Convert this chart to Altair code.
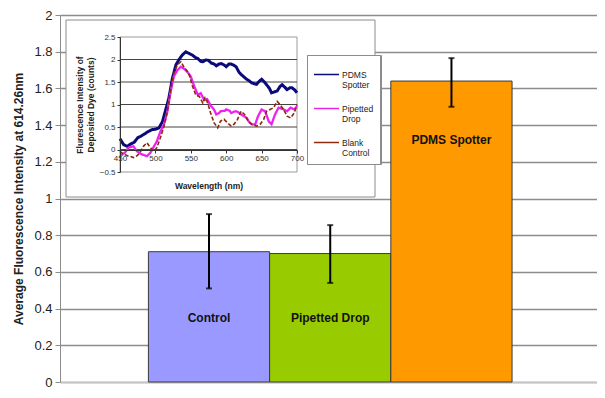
import altair as alt
import pandas as pd

# ---------------- main bar chart data ----------------
categories = ["Control", "Pipetted Drop", "PDMS Spotter"]
means = [0.71, 0.70, 1.64]
err_low = [0.51, 0.54, 1.50]
err_high = [0.915, 0.855, 1.765]
label_y = [0.35, 0.35, 1.32]
bar_colors = ["#9999FF", "#99CC00", "#FF9900"]
main_ticks = [0, 0.2, 0.4, 0.6, 0.8, 1.0, 1.2, 1.4, 1.6, 1.8, 2.0]

# ---------------- inset spectra data ----------------
series_names = ["PDMS Spotter", "Pipetted Drop", "Blank Control"]
series_colors = ["#0A0A7A", "#EE22EE", "#8B2A10"]

wl_pdms = [450, 455, 460, 465, 470, 475, 480, 485, 490, 495, 500, 505, 510, 514, 519,
           524, 529, 533, 538, 543, 548, 552, 556, 560, 564, 567, 571, 575, 579, 583,
           586, 590, 593, 597, 600, 604, 607, 611, 614, 618, 621, 626, 629, 633, 636,
           640, 643, 647, 650, 654, 657, 661, 664, 668, 672, 676, 679, 683, 686, 690,
           693, 697, 700]
val_pdms = [0.24, 0.11, 0.07, 0.12, 0.16, 0.26, 0.30, 0.35, 0.40, 0.44, 0.45, 0.48, 0.62, 0.85, 1.14,
            1.58, 1.88, 1.99, 2.10, 2.17, 2.13, 2.10, 2.05, 2.02, 1.96, 1.95, 1.99, 1.98, 1.92, 1.90,
            1.86, 1.90, 1.91, 1.88, 1.84, 1.90, 1.90, 1.87, 1.84, 1.72, 1.67, 1.60, 1.56, 1.52, 1.48,
            1.46, 1.45, 1.52, 1.56, 1.50, 1.44, 1.36, 1.26, 1.28, 1.30, 1.40, 1.44, 1.38, 1.33, 1.37,
            1.37, 1.32, 1.26]

wl_pip = [450, 454, 457, 462, 466, 469, 474, 478, 481, 485, 488, 493, 498, 502, 507,
          512, 517, 521, 526, 531, 536, 540, 545, 550, 555, 560, 564, 569, 573, 578,
          583, 586, 590, 592, 598, 600, 605, 607, 611, 614, 618, 621, 625, 629, 632,
          636, 641, 645, 650, 655, 660, 664, 669, 674, 678, 681, 686, 691, 696, 700]
val_pip = [-0.15, -0.10, -0.07, 0.04, 0.06, 0.07, -0.04, -0.08, -0.11, -0.13, -0.15, -0.07, 0.07, 0.18, 0.40,
           0.55, 0.85, 1.25, 1.62, 1.76, 1.84, 1.80, 1.73, 1.62, 1.40, 1.21, 1.25, 1.10, 1.12, 0.98,
           0.88, 0.78, 0.81, 0.85, 0.86, 0.89, 0.86, 0.81, 0.84, 0.85, 0.82, 0.78, 0.74, 0.70, 0.62,
           0.56, 0.56, 0.74, 0.89, 0.85, 0.63, 0.56, 0.78, 0.93, 0.91, 0.89, 0.85, 0.93, 0.89, 0.96]

wl_blank = [450, 455, 459, 462, 466, 469, 473, 476, 480, 483, 488, 493, 498, 502, 507,
            512, 517, 521, 526, 531, 536, 540, 544, 548, 552, 557, 562, 567, 570, 573,
            576, 578, 583, 588, 592, 597, 602, 607, 611, 616, 621, 626, 631, 636, 643,
            648, 653, 657, 662, 667, 672, 676, 681, 686, 691, 696, 700]
val_blank = [-0.04, -0.11, -0.13, -0.15, -0.16, -0.18, -0.15, -0.11, -0.02, 0.07, 0.15, 0.04, -0.04, 0.04, 0.26,
             0.51, 0.85, 1.29, 1.69, 1.88, 1.95, 1.84, 1.76, 1.65, 1.43, 1.21, 1.18, 1.03, 1.15, 1.07,
             0.92, 0.81, 0.59, 0.48, 0.63, 0.67, 0.59, 0.52, 0.56, 0.67, 0.85, 0.78, 0.63, 0.56, 0.52,
             0.56, 0.67, 0.85, 0.89, 0.93, 1.07, 1.00, 0.89, 0.74, 0.70, 0.81, 1.00]

inset_x_ticks = [450, 500, 550, 600, 650, 700]
inset_y_ticks = [-0.5, 0, 0.5, 1, 1.5, 2, 2.5]
inset_grid = [0, 0.5, 1, 1.5, 2]

FONT = "Liberation Sans"
PLOT_H = 367

# ---------------- tables ----------------
main_df = pd.DataFrame({"cat": categories, "mean": means, "lo": err_low,
                        "hi": err_high, "ly": label_y})
spec_df = pd.concat([
    pd.DataFrame({"series": series_names[0], "wl": wl_pdms, "v": val_pdms}),
    pd.DataFrame({"series": series_names[1], "wl": wl_pip, "v": val_pip}),
    pd.DataFrame({"series": series_names[2], "wl": wl_blank, "v": val_blank}),
], ignore_index=True)
grid_df = pd.DataFrame({"g": inset_grid})
one_df = pd.DataFrame({"k": [0]})

# ---------------- main layer ----------------
x_scale = alt.Scale(domain=categories, paddingInner=0, paddingOuter=0.715, align=0.51)
x_axis = alt.Axis(labels=False, ticks=False, title=None, grid=False,
                  domainColor="#c4c4c4", domainWidth=1.5)
y_scale = alt.Scale(domain=[0, 2], nice=False)
y_axis = alt.Axis(values=main_ticks, format="~g", orient="left", grid=True,
                  gridColor="#8c8c8c", gridWidth=1.3, domainColor="#8c8c8c",
                  tickColor="#8c8c8c", tickSize=5, labelFontSize=13, labelColor="#222222",
                  labelFont=FONT, labelPadding=3,
                  title="Average Fluorescence Intensity at 614.26nm", titleFont=FONT,
                  titleFontSize=12, titleFontWeight="bold", titleColor="#222222",
                  titlePadding=8)

base = alt.Chart(main_df)
bars = base.mark_bar(stroke="#3a3a3a", strokeWidth=1).encode(
    x=alt.X("cat:N", scale=x_scale, axis=x_axis),
    y=alt.Y("mean:Q", scale=y_scale, axis=y_axis),
    color=alt.Color("cat:N", scale=alt.Scale(domain=categories, range=bar_colors), legend=None),
)
err = base.mark_rule(color="black", strokeWidth=2).encode(
    x=alt.X("cat:N", scale=x_scale, axis=x_axis),
    y=alt.Y("lo:Q", scale=y_scale, axis=y_axis),
    y2="hi:Q",
)
cap_lo = base.mark_tick(color="black", thickness=2, size=6).encode(
    x=alt.X("cat:N", scale=x_scale, axis=x_axis),
    y=alt.Y("lo:Q", scale=y_scale, axis=y_axis),
)
cap_hi = base.mark_tick(color="black", thickness=2, size=6).encode(
    x=alt.X("cat:N", scale=x_scale, axis=x_axis),
    y=alt.Y("hi:Q", scale=y_scale, axis=y_axis),
)
labels = base.mark_text(font=FONT, fontSize=12, fontWeight="bold", color="#111111").encode(
    x=alt.X("cat:N", scale=x_scale, axis=x_axis),
    y=alt.Y("ly:Q", scale=y_scale, axis=y_axis),
    text="cat:N",
)
main_layer = alt.layer(bars, err, cap_lo, cap_hi, labels)

# ---------------- inset layer ----------------
isx = alt.Scale(domain=[450, 700], range=[60, 237], nice=False, zero=False)
isy = alt.Scale(domain=[-0.5, 2.5], range=[157, 22], nice=False, zero=False)
ix_axis = alt.Axis(values=inset_x_ticks, format="d", orient="bottom", offset=-(PLOT_H - 135),
                   grid=False, domainColor="#333333", tickColor="#333333", tickSize=3,
                   labelFont=FONT, labelFontSize=8, labelColor="#333333", labelPadding=1,
                   labelFlush=False, title="Wavelength (nm)", titleFont=FONT,
                   titleFontSize=8.5, titleFontWeight="bold", titleColor="#222222",
                   titleBaseline="middle", titleY=35, zindex=1)
iy_axis = alt.Axis(values=inset_y_ticks, format="~g", orient="left", offset=-60,
                   grid=False, domainColor="#333333", tickColor="#333333", tickSize=3,
                   labelFont=FONT, labelFontSize=8, labelColor="#333333", labelPadding=2,
                   title=["Flurescence Intensity of", "Deposited Dye (counts)"],
                   titleFont=FONT, titleFontSize=8.5, titleFontWeight="bold",
                   titleColor="#222222", titlePadding=4, zindex=1)

box = alt.Chart(one_df).mark_rect(fill="white", stroke="#8c8c8c", strokeWidth=1).encode(
    x=alt.value(6), x2=alt.value(315), y=alt.value(5), y2=alt.value(182)
)
frame = alt.Chart(one_df).mark_rect(fillOpacity=0, stroke="#9a9a9a", strokeWidth=1).encode(
    x=alt.X(datum=450, type="quantitative", scale=isx, axis=ix_axis),
    x2=alt.datum(700),
    y=alt.Y(datum=-0.5, type="quantitative", scale=isy, axis=iy_axis),
    y2=alt.datum(2.5),
)
igrid = alt.Chart(grid_df).mark_rule(color="#444444", strokeWidth=1).encode(
    x=alt.X(datum=450, type="quantitative", scale=isx, axis=ix_axis),
    x2=alt.datum(700),
    y=alt.Y("g:Q", scale=isy, axis=iy_axis),
)
legend = alt.Legend(title=None, orient="none", legendX=247, legendY=40,
                    strokeColor="#8c8c8c", fillColor="white", padding=6, rowPadding=5,
                    labelFont=FONT, labelFontSize=8.5, labelColor="#222222",
                    labelExpr="split(datum.label, ' ')", symbolType="stroke",
                    symbolSize=625, labelOffset=2)
lines = alt.Chart(spec_df).mark_line().encode(
    x=alt.X("wl:Q", scale=isx, axis=ix_axis),
    y=alt.Y("v:Q", scale=isy, axis=iy_axis),
    color=alt.Color("series:N", scale=alt.Scale(domain=series_names, range=series_colors),
                    legend=legend),
    strokeDash=alt.StrokeDash("series:N", scale=alt.Scale(domain=series_names,
                              range=[[1, 0], [1, 0], [4, 2]]), legend=legend),
    strokeWidth=alt.StrokeWidth("series:N", scale=alt.Scale(domain=series_names,
                                range=[3, 1.6, 1.1]), legend=legend),
)
inset_layer = alt.layer(box, frame, igrid, lines)

chart = alt.layer(main_layer, inset_layer).resolve_scale(
    x="independent", y="independent", color="independent"
).properties(
    width=537, height=PLOT_H,
    autosize=alt.AutoSizeParams(type="none"),
    padding={"left": 52, "top": 7, "right": 0, "bottom": 382 - 7 - PLOT_H},
    background="white",
).configure_view(stroke=None).configure(font=FONT)

chart.save("out.html", embed_options={"renderer": "svg", "actions": False})
